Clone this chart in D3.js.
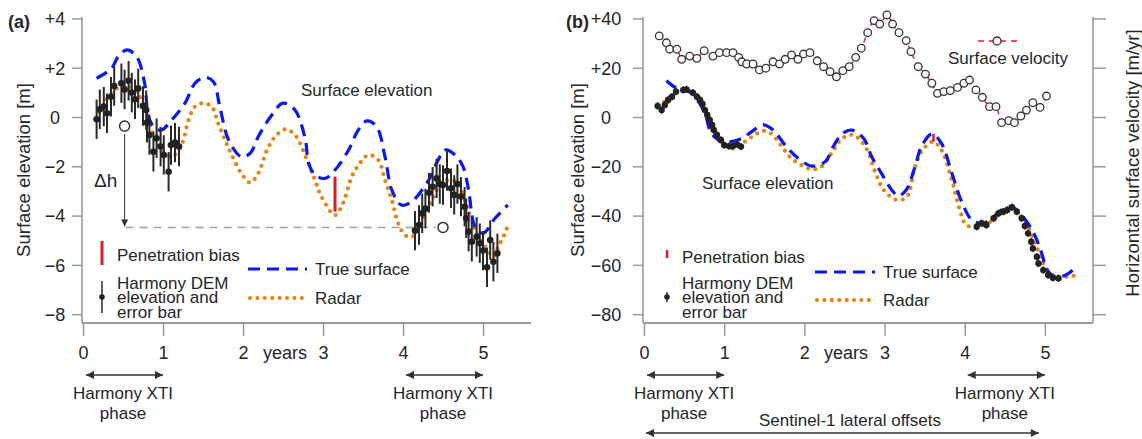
<!DOCTYPE html>
<html><head><meta charset="utf-8">
<script src="https://cdn.jsdelivr.net/npm/d3@7/dist/d3.min.js"></script>
<style>
html,body{margin:0;padding:0;background:#fff;}
text{font-family:"Liberation Sans",Arial,Helvetica,sans-serif;fill:#262626;}
</style></head><body>
<svg id="chart" width="1142" height="439"></svg>
<script>
// ---------------- DATA ----------------
const yearTicks = [0,1,2,3,4,5];
const elevTicksA = [-8,-6,-4,-2,0,2,4];
const elevTicksB = [-80,-60,-40,-20,0,20,40];

// Panel (a): true surface (m)
const trueA_t = [0.17,0.275,0.36,0.44,0.55,0.67,0.77,0.82,0.90,0.98,1.11,1.275,1.40,1.525,1.63,1.71,1.82,1.98,2.09,2.19,2.36,2.50,2.65,2.78,2.82,2.90,3.025,3.15,3.32,3.44,3.55,3.67,3.775,3.86,3.98,4.11,4.32,4.44,4.525,4.65,4.75,4.82,4.90,5.00,5.15,5.31];
const trueA_v = [1.57,1.77,1.98,2.45,2.72,2.45,1.37,0.01,-0.46,-0.53,-0.12,0.56,1.37,1.61,1.43,0.42,-0.93,-1.61,-1.47,-0.80,0.08,0.56,0.28,-0.93,-1.88,-2.35,-2.49,-2.15,-1.34,-0.53,-0.16,-0.39,-1.61,-2.96,-3.57,-3.43,-2.56,-1.74,-1.34,-1.54,-2.01,-2.96,-4.45,-4.72,-4.11,-3.57];
// Panel (a): radar (m)
const radarA_t = [0.2,0.34,0.5,0.6,0.7,0.8,0.9,1.0,1.11,1.23,1.32,1.40,1.50,1.61,1.69,1.775,1.86,1.98,2.09,2.19,2.30,2.40,2.525,2.65,2.80,2.90,2.98,3.15,3.25,3.36,3.46,3.57,3.69,3.775,3.86,3.94,4.025,4.11,4.21,4.36,4.48,4.57,4.69,4.80,4.90,5.025,5.13,5.19,5.275,5.32];
const radarA_v = [0.2,0.9,1.3,1.2,0.9,0.1,-0.9,-1.4,-1.61,-1.14,-0.12,0.42,0.56,0.42,-0.26,-0.93,-1.54,-2.29,-2.66,-2.29,-1.34,-0.80,-0.50,-0.73,-1.74,-2.56,-3.23,-3.98,-3.50,-2.42,-1.88,-1.54,-1.74,-2.56,-3.37,-4.31,-4.79,-4.86,-4.45,-3.37,-2.69,-2.56,-2.69,-3.64,-4.58,-5.26,-5.67,-5.26,-4.72,-4.31];
// Panel (a): Harmony DEM elevations (m), error ±0.8 m
const demA_t = [0.17,0.21,0.26,0.30,0.35,0.39,0.48,0.52,0.57,0.61,0.65,0.69,0.75,0.79,0.80,0.83,0.88,0.92,0.97,1.01,1.07,1.10,1.15,1.20,
                4.15,4.20,4.24,4.28,4.325,4.37,4.42,4.46,4.50,4.55,4.60,4.64,4.68,4.725,4.77,4.79,4.82,4.86,4.92,4.96,5.00,5.05,5.09,5.13,5.18];
const demA_v = [-0.09,0.31,0.42,0.15,0.82,1.26,1.37,1.12,1.47,0.99,0.72,1.16,0.45,0.28,-0.23,-0.73,-1.41,-0.86,-1.20,-1.54,-2.22,-1.14,-1.04,-1.20,
                -4.61,-4.38,-3.91,-3.71,-3.07,-2.83,-2.49,-2.72,-2.76,-2.19,-2.89,-3.16,-2.72,-3.23,-3.64,-4.11,-4.65,-5.06,-4.86,-5.12,-5.42,-6.10,-4.99,-5.87,-5.53];
const demA_err = 0.8;
const biasA = {t:3.15, top:-2.42, bottom:-3.84};
const deltaH = {t0:0.52, v0:-0.37, t1:4.50, v1:-4.48};

// Panel (b): true surface (m)
const trueB_t = [0.28,0.41,0.55,0.65,0.76,0.84,0.97,1.09,1.22,1.34,1.49,1.61,1.76,1.90,2.09,2.26,2.36,2.47,2.59,2.74,2.84,2.96,3.09,3.17,3.27,3.38,3.46,3.59,3.71,3.84,3.97,4.09,4.22,4.34,4.46,4.59,4.71,4.84,4.90,4.96,5.03,5.13,5.26,5.36];
const trueB_v = [14.7,11.6,10.5,7.5,1.5,-6.6,-10.0,-10.0,-8.7,-6.0,-3.2,-5.3,-11.4,-16.1,-19.9,-18.1,-12.0,-6.9,-5.3,-8.7,-16.1,-22.8,-29.6,-32.0,-29.6,-20.2,-12.0,-6.9,-10.7,-22.8,-35.0,-41.8,-43.1,-41.1,-37.7,-36.4,-39.8,-45.8,-49.9,-55.3,-62.1,-64.8,-64.1,-61.8];
// Panel (b): radar (m)
const radarB_t = [0.18,0.30,0.45,0.55,0.65,0.76,0.91,1.03,1.13,1.26,1.38,1.49,1.59,1.72,1.84,2.09,2.21,2.34,2.47,2.61,2.76,2.89,2.99,3.16,3.28,3.38,3.49,3.61,3.71,3.84,3.94,4.02,4.15,4.29,4.46,4.59,4.74,4.88,5.00,5.13,5.26,5.42];
const radarB_v = [4.0,7.5,10.5,10.8,8.5,2.0,-8.7,-12.0,-12.7,-10.0,-7.3,-5.6,-6.9,-12.0,-16.8,-21.2,-20.2,-14.7,-8.7,-7.3,-12.0,-22.8,-29.6,-33.7,-32.3,-20.2,-12.7,-10.0,-13.4,-25.6,-37.7,-43.8,-44.5,-43.1,-39.1,-37.7,-41.8,-51.2,-60.7,-64.8,-64.8,-64.1];
// Panel (b): Harmony DEM elevations (m), error ±1.5 m
const demB_t = [0.17,0.22,0.26,0.30,0.35,0.40,0.49,0.53,0.61,0.66,0.70,0.73,0.76,0.79,0.82,0.85,0.87,0.91,0.96,1.00,1.06,1.11,1.16,1.21,
                4.15,4.21,4.27,4.36,4.42,4.48,4.53,4.59,4.65,4.71,4.75,4.79,4.83,4.85,4.90,4.92,4.98,5.04,5.10,5.17];
const demB_v = [4.5,2.8,4.9,6.9,8.2,10.3,11.0,11.2,9.9,8.2,6.9,5.3,2.8,0.8,-1.2,-3.2,-5.3,-7.3,-9.3,-11.4,-11.8,-11.8,-11.0,-12.0,
                -44.5,-43.1,-43.8,-41.1,-39.1,-38.4,-37.7,-36.6,-38.4,-41.1,-44.2,-47.2,-50.6,-53.3,-56.7,-59.4,-62.1,-64.1,-65.2,-65.4];
const demB_err = 1.5;
const biasB = {t:3.61, top:-6.9, bottom:-10.0};
// Panel (b): horizontal surface velocity (m/yr), drawn on the unlabeled right axis
const velTicks = [-80,-60,-40,-20,0,20,40];
const vel_t = [0.19,0.28,0.32,0.41,0.47,0.57,0.66,0.75,0.86,0.94,1.03,1.11,1.18,1.22,1.28,1.36,1.44,1.52,1.61,1.69,1.76,1.84,1.92,1.99,2.07,2.16,2.24,2.32,2.40,2.48,2.56,2.64,2.71,2.79,2.87,2.94,3.03,3.10,3.18,3.27,3.33,3.42,3.51,3.59,3.66,3.74,3.82,3.91,3.99,4.06,4.14,4.22,4.31,4.39,4.46,4.55,4.62,4.70,4.77,4.85,4.94,5.02];
const vel_v = [32.9,30.1,27.5,27.5,23.4,24.7,23.8,26.9,24.7,26.1,26.1,26.1,24.2,22.4,21.5,21.5,19.1,19.8,22.4,21.5,23.4,25.2,23.4,25.6,26.1,22.8,20.4,18.4,16.3,18.8,20.4,24.2,27.9,34.2,39.1,37.7,41.4,37.7,34.2,31.0,26.5,20.4,17.4,13.7,9.6,10.3,10.7,12.0,13.7,15.0,11.0,8.0,4.2,4.2,-2.3,-1.5,-2.3,0.4,2.8,5.8,3.9,8.5];

const phasesA = [[0,1],[4,5]];
const sentinelSpan = [0,5];

// ---------------- DRAW ----------------
const svg = d3.select("#chart");
const AX = "#9a9a9a", TXT = "#262626";
const BLUE = "#0a18f0", ORANGE = "#e8820e", RED = "#e01b24";

const defs = svg.append("defs");
defs.append("marker").attr("id","ah").attr("viewBox","0 0 10 10").attr("refX",10).attr("refY",5)
  .attr("markerWidth",11).attr("markerHeight",8).attr("markerUnits","userSpaceOnUse").attr("orient","auto-start-reverse")
  .append("path").attr("d","M0,0L10,5L0,10z").attr("fill","#333");
defs.append("marker").attr("id","ahs").attr("viewBox","0 0 10 10").attr("refX",10).attr("refY",5)
  .attr("markerWidth",8).attr("markerHeight",7).attr("markerUnits","userSpaceOnUse").attr("orient","auto")
  .append("path").attr("d","M0,0L10,5L0,10z").attr("fill","#333");

const fmt = v => v>0 ? "+"+v : (v<0 ? "\u2212"+Math.abs(v) : "0");
const zip = (a,b) => a.map((d,i)=>[d,b[i]]);

function panel(o){
  const g = svg.append("g");
  const x = d3.scaleLinear().domain([0,5.6]).range([o.x0, o.x1]);
  const y = d3.scaleLinear().domain(o.ydom).range([314.2, 18.4]);
  const yBottom = 323;
  const ya = g.append("g").attr("transform",`translate(${o.x0-1},0)`)
    .call(d3.axisLeft(y).tickValues(o.yticks).tickSize(10).tickSizeOuter(0).tickFormat(fmt));
  ya.select(".domain").remove();
  ya.selectAll(".tick line").attr("stroke",AX).attr("stroke-width",1.5);
  ya.selectAll(".tick text").attr("x",o.ylabX-(o.x0-1)).attr("text-anchor","middle").attr("dy","0.35em")
    .style("font-size","18px").style("font-family","'Liberation Sans',Arial,sans-serif").attr("fill",TXT);
  g.append("line").attr("x1",o.x0-1).attr("x2",o.x0-1).attr("y1",17).attr("y2",yBottom).attr("stroke",AX).attr("stroke-width",1.6);
  const xa = g.append("g").attr("transform",`translate(0,${yBottom})`)
    .call(d3.axisBottom(x).tickValues(yearTicks).tickSize(13).tickSizeOuter(0).tickFormat(d3.format("d")));
  xa.select(".domain").remove();
  xa.selectAll(".tick line").attr("stroke",AX).attr("stroke-width",1.5);
  xa.selectAll(".tick text").attr("y",30).attr("dy","0.35em")
    .style("font-size","18px").style("font-family","'Liberation Sans',Arial,sans-serif").attr("fill",TXT);
  g.append("line").attr("x1",o.x0-1).attr("x2",o.x1).attr("y1",yBottom).attr("y2",yBottom).attr("stroke",AX).attr("stroke-width",2);
  g.append("text").attr("x",o.yearsX).attr("y",353).attr("dy","0.35em").attr("text-anchor","middle").style("font-size","18px").text("years");
  g.append("text").attr("transform",`translate(${o.titleX},170) rotate(-90)`).attr("text-anchor","middle").attr("dy","0.35em")
    .style("font-size","18.5px").text("Surface elevation [m]");
  g.append("text").attr("x",o.labX).attr("y",22).attr("dy","0.35em").style("font-size","18px").style("font-weight","bold").text(o.label);

  const line = d3.line().x(d=>x(d[0])).y(d=>y(d[1])).curve(d3.curveCatmullRom.alpha(0.5));
  return {g,x,y,line};
}

// ---- Panel (a)
const A = panel({x0:83, x1:531, ydom:[-8,4], yticks:elevTicksA, ylabX:55, titleX:24, labX:8, label:"(a)", yearsX:285});
A.g.append("line").attr("x1",A.x(deltaH.t0)+1).attr("x2",A.x(deltaH.t1)-7).attr("y1",A.y(deltaH.v1)).attr("y2",A.y(deltaH.v1))
  .attr("stroke","#a0a0a0").attr("stroke-width",1.5).attr("stroke-dasharray","8,6");
A.g.append("line").attr("x1",A.x(deltaH.t0)).attr("x2",A.x(deltaH.t0)).attr("y1",A.y(deltaH.v0)+8).attr("y2",A.y(deltaH.v1)-1)
  .attr("stroke","#333").attr("stroke-width",1).attr("marker-end","url(#ahs)");
A.g.append("text").attr("x",94).attr("y",180).attr("dy","0.35em").style("font-size","19px").text("\u0394h");
A.g.append("path").datum(zip(radarA_t,radarA_v)).attr("d",A.line).attr("fill","none").attr("stroke",ORANGE)
  .attr("stroke-width",4.2).attr("stroke-linecap","round").attr("stroke-dasharray","0,7.4");
A.g.append("path").datum(zip(trueA_t,trueA_v)).attr("d",A.line).attr("fill","none").attr("stroke",BLUE)
  .attr("stroke-width",3.2).attr("stroke-dasharray","12,7");
A.g.append("line").attr("x1",A.x(biasA.t)).attr("x2",A.x(biasA.t)).attr("y1",A.y(biasA.top)).attr("y2",A.y(biasA.bottom))
  .attr("stroke",RED).attr("stroke-width",3);
const demA = zip(demA_t,demA_v);
A.g.selectAll(".eba").data(demA).join("line").attr("x1",d=>A.x(d[0])).attr("x2",d=>A.x(d[0]))
  .attr("y1",d=>A.y(d[1]+demA_err)).attr("y2",d=>A.y(d[1]-demA_err)).attr("stroke","#2a2a2a").attr("stroke-width",2);
A.g.selectAll(".dpa").data(demA).join("circle").attr("cx",d=>A.x(d[0])).attr("cy",d=>A.y(d[1])).attr("r",3.3).attr("fill","#222");
[[deltaH.t0,deltaH.v0],[deltaH.t1,deltaH.v1]].forEach(d=>{
  A.g.append("circle").attr("cx",A.x(d[0])).attr("cy",A.y(d[1])).attr("r",5).attr("fill","#fff").attr("stroke","#333").attr("stroke-width",1.5);
});
A.g.append("text").attr("x",301).attr("y",90).attr("dy","0.35em").style("font-size","17px").text("Surface elevation");

// ---- Panel (b)
const B = panel({x0:644, x1:1093, ydom:[-80,40], yticks:elevTicksB, ylabX:606, titleX:578, labX:566, label:"(b)", yearsX:846});
const yV = d3.scaleLinear().domain([-80,40]).range([314.2,18.4]);
const ra = B.g.append("g").attr("transform","translate(1093,0)").call(d3.axisRight(yV).tickValues(velTicks).tickSize(13).tickSizeOuter(0).tickFormat(""));
ra.select(".domain").remove();
ra.selectAll(".tick line").attr("stroke",AX).attr("stroke-width",1.5);
B.g.append("line").attr("x1",1093).attr("x2",1093).attr("y1",17).attr("y2",323).attr("stroke",AX).attr("stroke-width",1.6);
B.g.append("text").attr("transform","translate(1133,163) rotate(-90)").attr("text-anchor","middle").attr("dy","0.35em")
  .style("font-size","18.5px").text("Horizontal surface velocity [m/yr]");
const velLine = d3.line().x(d=>B.x(d[0])).y(d=>yV(d[1])).curve(d3.curveCatmullRom.alpha(0.5));
const vel = zip(vel_t,vel_v);
B.g.append("path").datum(vel).attr("d",velLine).attr("fill","none").attr("stroke",RED).attr("stroke-width",1.4).attr("stroke-dasharray","5,4");
B.g.selectAll(".vc").data(vel).join("circle").attr("cx",d=>B.x(d[0])).attr("cy",d=>yV(d[1])).attr("r",3.8)
  .attr("fill","#fff").attr("stroke","#333").attr("stroke-width",1.3);
B.g.append("path").datum(zip(radarB_t,radarB_v)).attr("d",B.line).attr("fill","none").attr("stroke",ORANGE)
  .attr("stroke-width",4.2).attr("stroke-linecap","round").attr("stroke-dasharray","0,7.4");
B.g.append("path").datum(zip(trueB_t,trueB_v)).attr("d",B.line).attr("fill","none").attr("stroke",BLUE)
  .attr("stroke-width",3.2).attr("stroke-dasharray","12,7");
B.g.append("line").attr("x1",B.x(biasB.t)).attr("x2",B.x(biasB.t)).attr("y1",B.y(biasB.top)).attr("y2",B.y(biasB.bottom))
  .attr("stroke",RED).attr("stroke-width",2.5);
const demB = zip(demB_t,demB_v);
B.g.selectAll(".ebb").data(demB).join("line").attr("x1",d=>B.x(d[0])).attr("x2",d=>B.x(d[0]))
  .attr("y1",d=>B.y(d[1]+demB_err)).attr("y2",d=>B.y(d[1]-demB_err)).attr("stroke","#2a2a2a").attr("stroke-width",1.5);
B.g.selectAll(".dpb").data(demB).join("circle").attr("cx",d=>B.x(d[0])).attr("cy",d=>B.y(d[1])).attr("r",3.2).attr("fill","#222");
B.g.append("text").attr("x",702).attr("y",183).attr("dy","0.35em").style("font-size","17px").text("Surface elevation");
B.g.append("line").attr("x1",978).attr("x2",1018).attr("y1",41).attr("y2",41).attr("stroke",RED).attr("stroke-width",1.4).attr("stroke-dasharray","6,5");
B.g.append("circle").attr("cx",997).attr("cy",41).attr("r",4).attr("fill","#fff").attr("stroke","#333").attr("stroke-width",1.3);
B.g.append("text").attr("x",948).attr("y",58).attr("dy","0.35em").style("font-size","17px").text("Surface velocity");

// ---- Legends
function legend(g, o){
  g.append("line").attr("x1",o.sx).attr("x2",o.sx).attr("y1",o.biasY0).attr("y2",o.biasY1).attr("stroke",RED).attr("stroke-width",o.biasW);
  g.append("text").attr("x",o.tx).attr("y",o.biasTextY).attr("dy","0.35em").style("font-size","17px").text("Penetration bias");
  g.append("line").attr("x1",o.sx).attr("x2",o.sx).attr("y1",297-o.ebH).attr("y2",297+o.ebH).attr("stroke","#2a2a2a").attr("stroke-width",1.5);
  g.append("circle").attr("cx",o.sx).attr("cy",297).attr("r",2.8).attr("fill","#222");
  ["Harmony DEM","elevation and","error bar"].forEach((s,i)=>{
    g.append("text").attr("x",o.tx).attr("y",283+i*14.5).attr("dy","0.35em").style("font-size","17px").text(s);
  });
  g.append("line").attr("x1",o.lx0).attr("x2",o.lx1).attr("y1",o.blueY).attr("y2",o.blueY).attr("stroke",BLUE).attr("stroke-width",3.2).attr("stroke-dasharray","12,7");
  g.append("text").attr("x",o.lx1+8).attr("y",o.blueY).attr("dy","0.35em").style("font-size","17px").text("True surface");
  g.append("line").attr("x1",o.lx0+2).attr("x2",o.lx1).attr("y1",o.orY).attr("y2",o.orY).attr("stroke",ORANGE).attr("stroke-width",4.2)
    .attr("stroke-linecap","round").attr("stroke-dasharray","0,7.4");
  g.append("text").attr("x",o.lx1+8).attr("y",o.orY).attr("dy","0.35em").style("font-size","17px").text("Radar");
}
legend(A.g,{sx:102,tx:117,biasY0:241,biasY1:265,biasW:3,biasTextY:255,ebH:16,lx0:248,lx1:307,blueY:269,orY:298});
legend(B.g,{sx:667,tx:682,biasY0:250,biasY1:258,biasW:2.5,biasTextY:257,ebH:5,lx0:815,lx1:875,blueY:272,orY:300});

// ---- Harmony phase arrows & Sentinel
function phase(P){
  phasesA.forEach(ph=>{
    const a = P.x(ph[0])+3, b = P.x(ph[1]);
    P.g.append("line").attr("x1",a).attr("x2",b).attr("y1",375).attr("y2",375).attr("stroke","#333").attr("stroke-width",1.3)
      .attr("marker-start","url(#ah)").attr("marker-end","url(#ah)");
    const cx = (P.x(ph[0])+P.x(ph[1]))/2;
    P.g.append("text").attr("x",cx).attr("y",393).attr("dy","0.35em").attr("text-anchor","middle").style("font-size","17px").text("Harmony XTI");
    P.g.append("text").attr("x",cx).attr("y",413).attr("dy","0.35em").attr("text-anchor","middle").style("font-size","17px").text("phase");
  });
}
phase(A); phase(B);
B.g.append("line").attr("x1",B.x(sentinelSpan[0])+2).attr("x2",B.x(sentinelSpan[1])-6).attr("y1",433).attr("y2",433).attr("stroke","#333").attr("stroke-width",1.3)
  .attr("marker-start","url(#ah)").attr("marker-end","url(#ah)");
B.g.append("text").attr("x",850).attr("y",420).attr("dy","0.35em").attr("text-anchor","middle").style("font-size","17px").text("Sentinel-1 lateral offsets");
</script>
</body></html>
